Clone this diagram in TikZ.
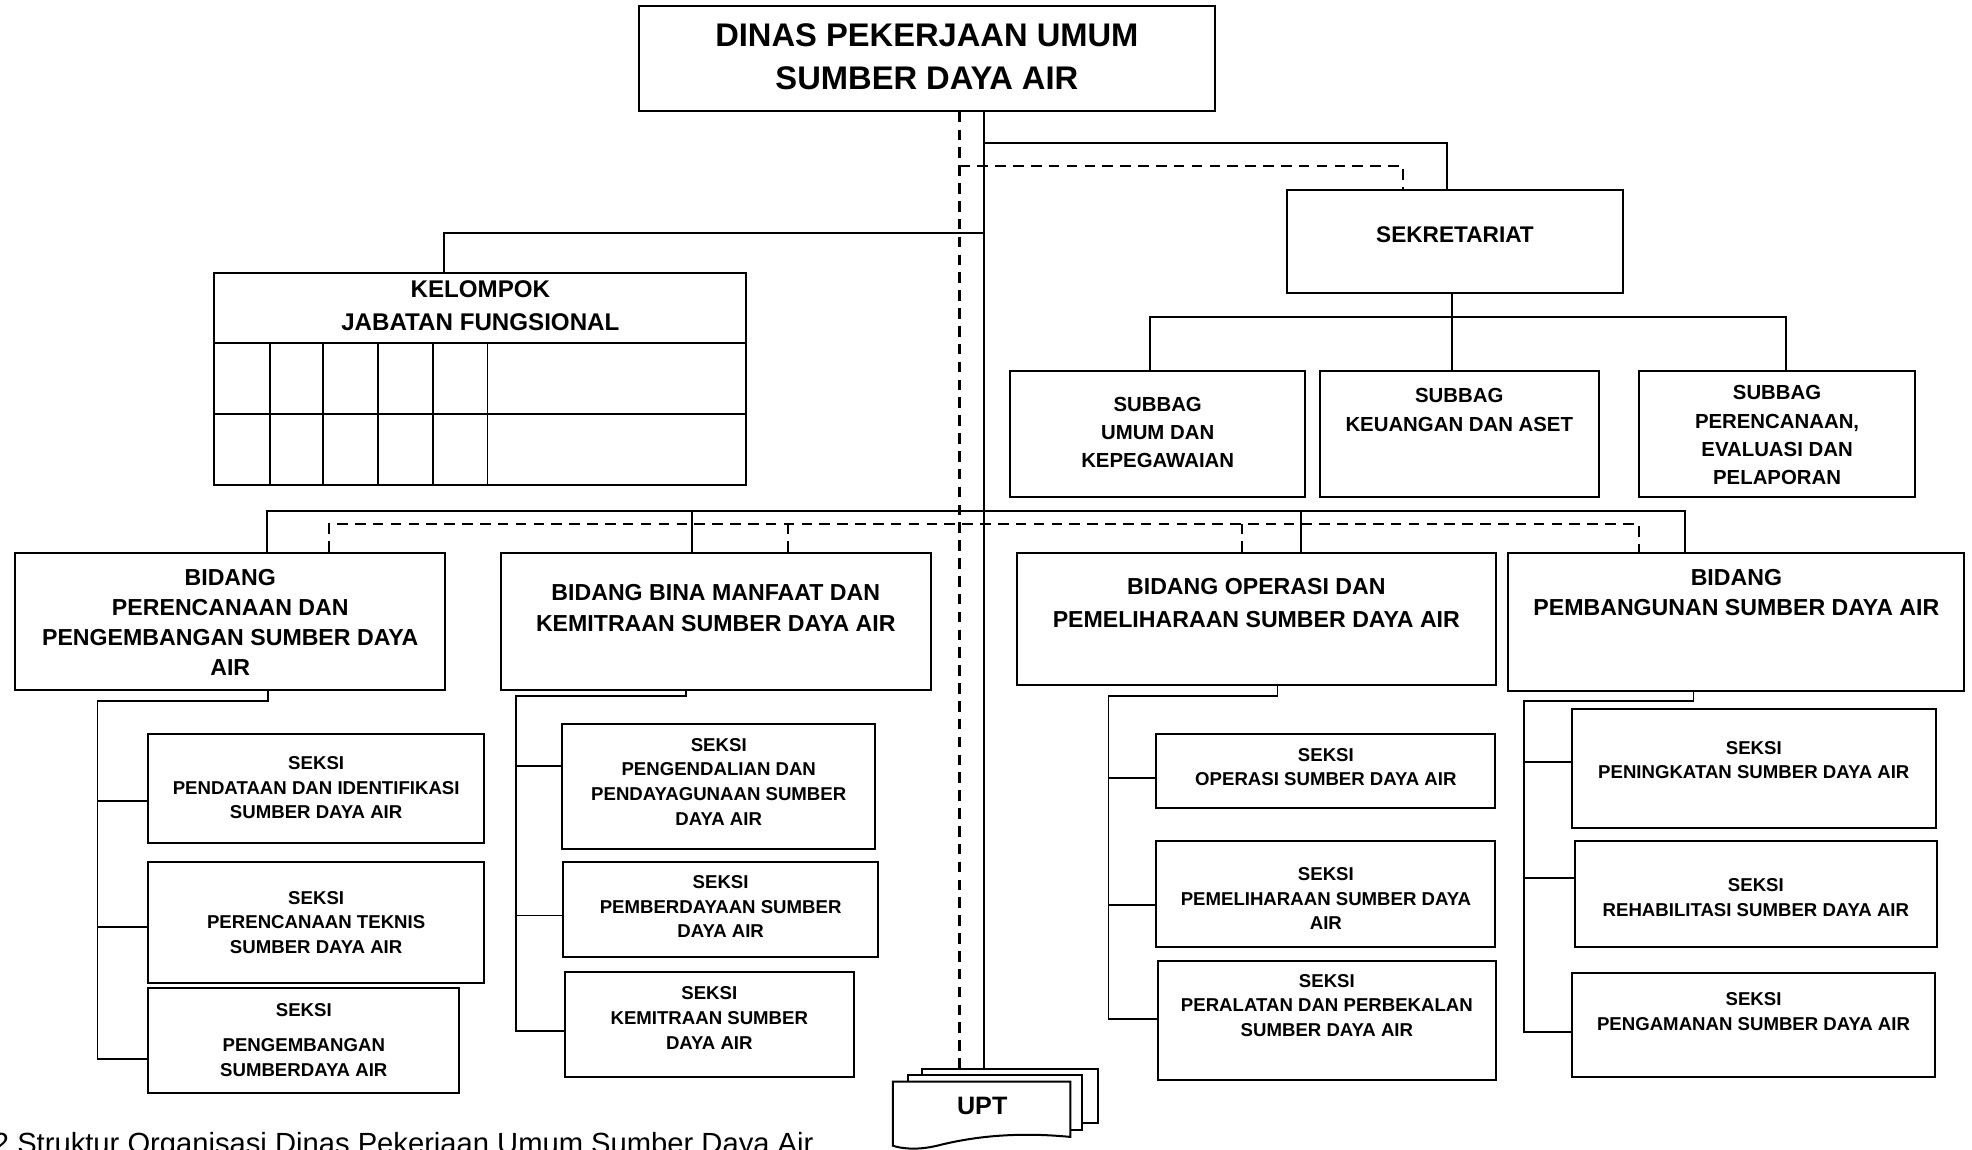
\documentclass[tikz,border=0pt]{standalone}
\usepackage{fontspec}
\setmainfont{Liberation Sans}
\usetikzlibrary{fit}
\begin{document}
\begin{tikzpicture}[x=0.5pt,y=-0.5pt]
\tikzset{
  bx/.style={draw, line width=0.8pt, inner sep=0pt, fill=white},
  ln/.style={line width=0.7pt},
  dl/.style={line width=0.9pt, dash pattern=on 4.2pt off 2.9pt},
  tx/.style={inner sep=0pt, align=center},
  ftitle/.style={tx, font=\fontsize{13}{17}\selectfont\bfseries},
  fkel/.style={tx, font=\fontsize{9.6}{13}\selectfont\bfseries},
  fsek/.style={tx, font=\fontsize{9}{12}\selectfont\bfseries},
  fsub/.style={tx, font=\fontsize{8.1}{11.2}\selectfont\bfseries},
  fbid/.style={tx, font=\fontsize{9.2}{12}\selectfont\bfseries},
  fsks/.style={tx, font=\fontsize{7.4}{9.8}\selectfont\bfseries},
  fupt/.style={tx, font=\fontsize{10}{12}\selectfont\bfseries},
}
\useasboundingbox (0,0) rectangle (1568,914);

% ---------- boxes ----------
\node[bx, fit={(508,4.5) (966,88)}] (top) {};
\node[bx, fit={(170.4,217.3) (593.5,385.6)}] (kel) {};
\node[bx, fit={(1023,151) (1290.8,232.7)}] (sekr) {};
\node[bx, fit={(803.4,295) (1037.6,394.9)}] (sb1) {};
\node[bx, fit={(1049.3,295) (1271.3,394.9)}] (sb2) {};
\node[bx, fit={(1303,295) (1523,394.9)}] (sb3) {};
\node[bx, fit={(12.2,439.4) (354,548.6)}] (b1) {};
\node[bx, fit={(398.3,439.4) (740,548.6)}] (b2) {};
\node[bx, fit={(808.4,439.4) (1189.5,544.7)}] (b3) {};
\node[bx, fit={(1199.3,439.4) (1562,549.4)}] (b4) {};
\node[bx, fit={(118,583.6) (384.8,670)}] (s1) {};
\node[bx, fit={(118,685.4) (384.8,781.3)}] (s2) {};
\node[bx, fit={(118,785.6) (365.1,869.3)}] (s3) {};
\node[bx, fit={(447,575.7) (696,675.3)}] (p1) {};
\node[bx, fit={(448,685.4) (698,761)}] (p2) {};
\node[bx, fit={(449,773) (679,856)}] (p3) {};
\node[bx, fit={(919.5,583.6) (1189,642.2)}] (o1) {};
\node[bx, fit={(919.5,668.7) (1189,752.7)}] (o2) {};
\node[bx, fit={(920.6,763.8) (1189.5,858.7)}] (o3) {};
\node[bx, fit={(1250,563.7) (1539,658.6)}] (r1) {};
\node[bx, fit={(1252.3,668.7) (1540,752.7)}] (r2) {};
\node[bx, fit={(1250,773.6) (1538.6,856.3)}] (r3) {};

% kelompok grid
\draw[ln] (kel.west |- 0,273) -- (kel.east |- 0,273);
\draw[ln] (kel.west |- 0,329.4) -- (kel.east |- 0,329.4);
\foreach \gx in {214.4,257,300.5,344.2,387.6}
  \draw[ln] (\gx,273) -- (kel.south -| \gx,0);

% UPT stack
\node[bx, fit={(733,850) (873,892.6)}] (upt3) {};
\node[bx, fit={(722,855) (860,898.5)}] (upt2) {};
\draw[bx] (710,860) -- (851,860) -- (851,904)
  .. controls (800,899) and (765,906) .. (745,911)
  .. controls (728,915) and (716,913) .. (710,911) -- cycle;
\node[fupt] (upt) at (781,879) {UPT};

% ---------- texts ----------
\node[ftitle] (topt) at (top |- 0,45) {DINAS PEKERJAAN UMUM\\SUMBER DAYA AIR};
\node[fkel] (kelt) at (kel |- 0,243) {KELOMPOK\\JABATAN FUNGSIONAL};
\node[fsek] (sekrt) at (sekr |- 0,187) {SEKRETARIAT};
\node[fsub] (sb1t) at (sb1 |- 0,344) {SUBBAG\\UMUM DAN\\KEPEGAWAIAN};
\node[fsub] (sb2t) at (sb2 |- 0,326) {SUBBAG\\KEUANGAN DAN ASET};
\node[fsub] (sb3t) at (sb3 |- 0,346) {SUBBAG\\PERENCANAAN,\\EVALUASI DAN\\PELAPORAN};
\node[fbid] (b1t) at (b1 |- 0,495) {BIDANG\\PERENCANAAN DAN\\PENGEMBANGAN SUMBER DAYA\\AIR};
\node[fbid] (b2t) at (b2 |- 0,483.5) {BIDANG BINA MANFAAT DAN\\KEMITRAAN SUMBER DAYA AIR};
\node[fbid, font=\fontsize{9.2}{13.5}\selectfont\bfseries] (b3t) at (b3 |- 0,479.5) {BIDANG OPERASI DAN\\PEMELIHARAAN SUMBER DAYA AIR};
\node[fbid] (b4t) at (b4 |- 0,471) {BIDANG\\PEMBANGUNAN SUMBER DAYA AIR};
\node[fsks] (s1t) at (s1 |- 0,626.5) {SEKSI\\PENDATAAN DAN IDENTIFIKASI\\SUMBER DAYA AIR};
\node[fsks] (s2t) at (s2 |- 0,733.5) {SEKSI\\PERENCANAAN TEKNIS\\SUMBER DAYA AIR};
\node[fsks] (s3t) at (s3 |- 0,827) {SEKSI\\[4.2pt]PENGEMBANGAN\\SUMBERDAYA AIR};
\node[fsks] (p1t) at (p1 |- 0,621.5) {SEKSI\\PENGENDALIAN DAN\\PENDAYAGUNAAN SUMBER\\DAYA AIR};
\node[fsks] (p2t) at (p2 |- 0,721) {SEKSI\\PEMBERDAYAAN SUMBER\\DAYA AIR};
\node[fsks] (p3t) at (p3 |- 0,809.5) {SEKSI\\KEMITRAAN SUMBER\\DAYA AIR};
\node[fsks] (o1t) at (o1 |- 0,610) {SEKSI\\OPERASI SUMBER DAYA AIR};
\node[fsks] (o2t) at (o2 |- 0,714.5) {SEKSI\\PEMELIHARAAN SUMBER DAYA\\AIR};
\node[fsks] (o3t) at (o3 |- 0,799.5) {SEKSI\\PERALATAN DAN PERBEKALAN\\SUMBER DAYA AIR};
\node[fsks] (r1t) at (r1 |- 0,604.5) {SEKSI\\PENINGKATAN SUMBER DAYA AIR};
\node[fsks] (r2t) at (r2 |- 0,713.5) {SEKSI\\REHABILITASI SUMBER DAYA AIR};
\node[fsks] (r3t) at (r3 |- 0,804.5) {SEKSI\\PENGAMANAN SUMBER DAYA AIR};

% ---------- connectors ----------
% main solid and dashed spines
\draw[ln] (top.south -| 782.5,0) -- (upt3.north -| 782.5,0);
\draw[dl] (top.south -| 763,0) -- (upt3.north -| 763,0);
% to sekretariat
\draw[ln] (top.south -| 782.5,0) -- (782.5,114) -| (sekr.north -| 1150.5,0);
\draw[dl] (763,132) -| (sekr.north -| 1115.6,0);
% to kelompok
\draw[ln] (782.5,185) -| (kel.north -| 353,0);
% sekretariat to subbag
\draw[ln] (sekr.south -| 1154.6,0) -- (sb2.north -| 1154.6,0);
\draw[ln] (sb1.north -| 914.4,0) |- (1419.8,251.8) -- (sb3.north -| 1419.8,0);
% bidang bus
\draw[ln] (b1.north -| 212,0) |- (1339.8,406.5) -- (b4.north -| 1339.8,0);
\draw[ln] (b2.north -| 550.2,0) -- (550.2,406.5);
\draw[ln] (b3.north -| 1034.2,0) -- (1034.2,406.5);
\draw[dl] (b1.north -| 261.5,0) |- (1303,416.8) -- (b4.north -| 1303,0);
\draw[dl] (b2.north -| 626.6,0) -- (626.6,416.8);
\draw[dl] (b3.north -| 987.4,0) -- (987.4,416.8);
% bidang 1 seksi
\draw[ln] (b1.south -| 212.8,0) -- (212.8,557.6) -| (77.6,842) -- (s3.west |- 0,842);
\draw[ln] (77.6,636.6) -- (s1.west |- 0,636.6);
\draw[ln] (77.6,737) -- (s2.west |- 0,737);
% bidang 2 seksi
\draw[ln] (b2.south -| 545.3,0) -- (545.3,553.4) -| (410,820) -- (p3.west |- 0,820);
\draw[ln] (410,609) -- (p1.west |- 0,609);
\draw[ln] (410,728) -- (p2.west |- 0,728);
% bidang 3 seksi
\draw[ln] (b3.south -| 1015.8,0) -- (1015.8,553.4) -| (881.3,810.4) -- (o3.west |- 0,810.4);
\draw[ln] (881.3,618.6) -- (o1.west |- 0,618.6);
\draw[ln] (881.3,719.6) -- (o2.west |- 0,719.6);
% bidang 4 seksi
\draw[ln] (b4.south -| 1346.5,0) -- (1346.5,557.4) -| (1211.8,820.5) -- (r3.west |- 0,820.5);
\draw[ln] (1211.8,606) -- (r1.west |- 0,606);
\draw[ln] (1211.8,698) -- (r2.west |- 0,698);

% caption (cut by the page edge, as in the source)
\begin{scope}
\clip (0,0) rectangle (1568,914);
\node[anchor=base west, inner sep=0pt, font=\fontsize{11.6}{14}\selectfont] (cap) at (-6,917) {2 Struktur Organisasi Dinas Pekerjaan Umum Sumber Daya Air};
\end{scope}
\end{tikzpicture}
\end{document}
